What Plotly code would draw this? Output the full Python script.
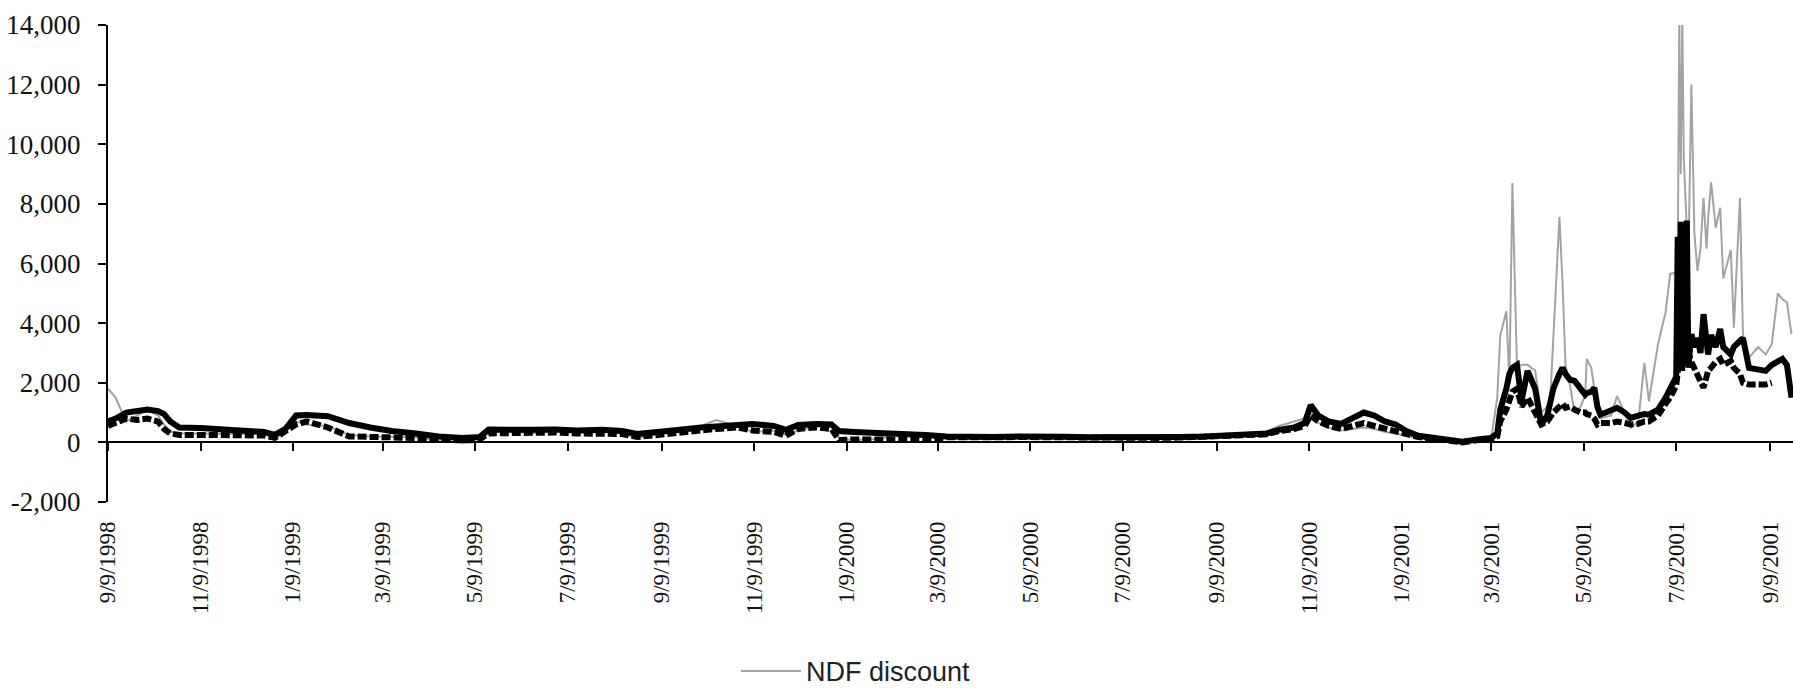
import plotly.graph_objects as go

# ---------------- data ----------------
dates = [
    "1998-09-09", "1998-09-14", "1998-09-21", "1998-09-28", "1998-10-05", "1998-10-12",
    "1998-10-16", "1998-10-20", "1998-10-26", "1998-11-09", "1998-11-23", "1998-12-07",
    "1998-12-21", "1998-12-28", "1999-01-04", "1999-01-11", "1999-01-18", "1999-02-01",
    "1999-02-15", "1999-03-01", "1999-03-15", "1999-03-31", "1999-04-15", "1999-05-01",
    "1999-05-12", "1999-05-18", "1999-06-01", "1999-06-15", "1999-07-01", "1999-07-15",
    "1999-08-01", "1999-08-14", "1999-08-24", "1999-09-07", "1999-09-21", "1999-10-05",
    "1999-10-15", "1999-10-29", "1999-11-08", "1999-11-22", "1999-11-30", "1999-12-08",
    "1999-12-20", "1999-12-30", "2000-01-04", "2000-01-14", "2000-02-01", "2000-02-15",
    "2000-03-01", "2000-03-15", "2000-04-01", "2000-04-15", "2000-05-01", "2000-05-15",
    "2000-06-01", "2000-06-15", "2000-07-01", "2000-07-15", "2000-08-01", "2000-08-15",
    "2000-09-01", "2000-09-15", "2000-10-01", "2000-10-12", "2000-10-20", "2000-10-30",
    "2000-11-06", "2000-11-10", "2000-11-15", "2000-11-22", "2000-11-30", "2000-12-08",
    "2000-12-15", "2000-12-22", "2000-12-29", "2001-01-05", "2001-01-12", "2001-01-20",
    "2001-01-30", "2001-02-10", "2001-02-18", "2001-02-28", "2001-03-09", "2001-03-13",
    "2001-03-15", "2001-03-19", "2001-03-21", "2001-03-23", "2001-03-26", "2001-03-29",
    "2001-04-02", "2001-04-07", "2001-04-11", "2001-04-15", "2001-04-17", "2001-04-19",
    "2001-04-23", "2001-04-25", "2001-04-27", "2001-04-30", "2001-05-03", "2001-05-07",
    "2001-05-10", "2001-05-11", "2001-05-14", "2001-05-16", "2001-05-18", "2001-05-20",
    "2001-05-27", "2001-05-31", "2001-06-05", "2001-06-09", "2001-06-14", "2001-06-18",
    "2001-06-21", "2001-06-27", "2001-07-02", "2001-07-05", "2001-07-09", "2001-07-10",
    "2001-07-11", "2001-07-12", "2001-07-13", "2001-07-14", "2001-07-15", "2001-07-16",
    "2001-07-17", "2001-07-19", "2001-07-21",
    "2001-07-23", "2001-07-25", "2001-07-27", "2001-07-29", "2001-07-30", "2001-08-01",
    "2001-08-04", "2001-08-07", "2001-08-09", "2001-08-14", "2001-08-16", "2001-08-20",
    "2001-08-22", "2001-08-26", "2001-09-01", "2001-09-06", "2001-09-10", "2001-09-14",
    "2001-09-17", "2001-09-20", "2001-09-23",
]

ndf_discount = [
    1800, 1500, 700, 900, 1100, 900,
    600, 350, 300, 300, 280, 300,
    280, 120, 380, 700, 600, 550,
    250, 200, 180, 170, 50, -30,
    20, 350, 380, 300, 400, 320,
    350, 300, 150, 280, 380, 550,
    750, 550, 350, 400, 250, 400,
    550, 650, 120, 80, 120, 350,
    200, 180, 160, 200, 180, 160,
    150, 140, 130, 120, 140, 170,
    200, 230, 250, 350, 550, 700,
    800, 1000, 650, 500, 400, 450,
    500, 450, 350, 300, 220, 150,
    100, 50, -40, 60, 120, 1500,
    3600, 4400, 2000, 8700, 2500, 2600,
    2600, 2400, 1000, 1200, 1500, 3600,
    7570, 5400, 2600, 1900, 1000, 1200,
    1600, 2800, 2500, 1800, 1400, 800,
    900, 1550, 1000, 480, 700, 2670,
    1380, 3300, 4360, 5650, 5700, 6000,
    14200, 9000, 14200, 9500, 8100, 7000,
    6000, 12000, 7000,
    5750, 6500, 8200, 6500, 7500, 8730,
    7200, 7870, 5500, 6450, 3850, 8200,
    3630, 2840, 3200, 2950, 3290, 5000,
    4800, 4700, 3630,
]

series_solid = [
    700, 800, 1000, 1050, 1100, 1050,
    950, 700, 500, 480, 420, 400,
    350, 250, 450, 900, 920, 880,
    650, 500, 380, 300, 200, 150,
    180, 430, 450, 420, 430, 400,
    420, 380, 280, 330, 420, 500,
    550, 600, 620, 550, 420, 580,
    620, 600, 380, 350, 330, 300,
    250, 200, 170, 180, 200, 210,
    190, 170, 160, 150, 170, 180,
    200, 220, 260, 300, 420, 500,
    650, 1250, 900, 700, 620, 800,
    1000, 900, 700, 600, 380, 220,
    150, 80, 20, 100, 150, 300,
    1100, 1800, 2300, 2500, 2600, 1400,
    2400, 1800, 600, 900, 1380, 1800,
    2300, 2500, 2300, 2100, 2060, 1800,
    1600, 1650, 1700, 1830, 1200, 930,
    1100, 1160, 1000, 820, 900, 950,
    930, 1100, 1500, 1800, 2200, 6900,
    2600, 7400, 2900, 7300, 2800, 7440,
    2500, 3630, 3200,
    3500, 3000, 4300, 3000, 2950, 3600,
    3200, 3800, 3200, 2950, 3200, 3400,
    3500, 2500, 2450, 2400, 2600, 2700,
    2800, 2600, 1500,
]

series_dashed = [
    550, 650, 800, 750, 800, 700,
    450, 300, 250, 250, 260, 250,
    230, 150, 350, 600, 700, 500,
    200, 180, 150, 150, 100, 80,
    100, 300, 320, 300, 330, 300,
    300, 280, 180, 260, 340, 420,
    450, 500, 400, 350, 220, 450,
    500, 450, 80, 100, 90, 120,
    100, 170, 150, 170, 180, 170,
    160, 150, 140, 130, 150, 160,
    180, 200, 230, 270, 380, 450,
    550, 900, 700, 550, 450, 550,
    650, 550, 450, 400, 280, 180,
    120, 50, 0, 80, 120, 200,
    700, 1100, 1400, 1700, 1800, 1200,
    1500, 1000, 600, 700, 900, 1000,
    1200, 1300, 1160, 1200, 1100, 1000,
    1000, 950, 900, 800, 600, 650,
    650, 700, 650, 600, 620, 700,
    700, 900, 1300, 1500, 1900, 2300,
    2600, 3300, 2400, 3000, 2800, 2900,
    3000, 2700, 2500,
    2200, 2000, 1830, 2200, 2400, 2500,
    2700, 2800, 2600, 2730, 2500, 2300,
    2000, 1940, 1950, 1940, 2000, None,
    None, None, None,
]

x_tick_dates = [
    "1998-09-09", "1998-11-09", "1999-01-09", "1999-03-09", "1999-05-09", "1999-07-09",
    "1999-09-09", "1999-11-09", "2000-01-09", "2000-03-09", "2000-05-09", "2000-07-09",
    "2000-09-09", "2000-11-09", "2001-01-09", "2001-03-09", "2001-05-09", "2001-07-09",
    "2001-09-09",
]
x_tick_labels = [
    "9/9/1998", "11/9/1998", "1/9/1999", "3/9/1999", "5/9/1999", "7/9/1999",
    "9/9/1999", "11/9/1999", "1/9/2000", "3/9/2000", "5/9/2000", "7/9/2000",
    "9/9/2000", "11/9/2000", "1/9/2001", "3/9/2001", "5/9/2001", "7/9/2001",
    "9/9/2001",
]
y_tick_vals = [-2000, 0, 2000, 4000, 6000, 8000, 10000, 12000, 14000]
y_tick_labels = ["-2,000", "0", "2,000", "4,000", "6,000", "8,000", "10,000", "12,000", "14,000"]

x_range = ["1998-09-09", "2001-09-24"]
y_range = [-2000, 14000]

# ---------------- figure ----------------
SERIF = "Liberation Serif, Times New Roman, serif"
SANS = "Liberation Sans, Arial, sans-serif"

fig = go.Figure()
fig.add_trace(go.Scatter(
    x=dates, y=ndf_discount, mode="lines", name="NDF discount",
    line=dict(color="#a3a3a3", width=2), showlegend=True,
))
fig.add_trace(go.Scatter(
    x=dates, y=series_dashed, mode="lines", name="dashed",
    line=dict(color="black", width=6, dash="9px,3px"), showlegend=False,
    connectgaps=False,
))
fig.add_trace(go.Scatter(
    x=dates, y=series_solid, mode="lines", name="solid",
    line=dict(color="black", width=6), showlegend=False,
))
# invisible trace so the zero-line axis is drawn
fig.add_trace(go.Scatter(
    x=x_range, y=[0, 0], xaxis="x2", mode="lines",
    line=dict(width=0), hoverinfo="skip", showlegend=False, opacity=0,
))

fig.update_layout(
    width=1793, height=688,
    margin=dict(l=108, r=0, t=25, b=186, autoexpand=False),
    paper_bgcolor="white", plot_bgcolor="white",
    showlegend=True,
    legend=dict(
        orientation="h", x=0.3727, xanchor="left", y=-0.355, yanchor="middle",
        font=dict(family=SANS, size=27, color="#222"),
        bgcolor="rgba(0,0,0,0)", itemwidth=60,
    ),
    xaxis=dict(
        type="date", range=x_range, automargin=False,
        tickmode="array", tickvals=x_tick_dates, ticktext=x_tick_labels,
        tickangle=-90, ticks="", showline=False, showgrid=False, zeroline=False,
        tickfont=dict(family=SERIF, size=23, color="#111"),
        ticklabelstandoff=14,
    ),
    xaxis2=dict(
        type="date", range=x_range, overlaying="x", matches="x", automargin=False,
        anchor="free", position=(0 - y_range[0]) / (y_range[1] - y_range[0]),
        tickmode="array", tickvals=x_tick_dates,
        showticklabels=False, ticks="outside", ticklen=8, tickwidth=2, tickcolor="black",
        showline=True, linecolor="black", linewidth=2, showgrid=False, zeroline=False,
    ),
    yaxis=dict(
        range=y_range, automargin=False, tickmode="array", tickvals=y_tick_vals,
        ticktext=y_tick_labels,
        ticks="outside", ticklen=8, tickwidth=2, tickcolor="black",
        showline=True, linecolor="black", linewidth=2,
        showgrid=False, zeroline=False,
        tickfont=dict(family=SERIF, size=27, color="#111"),
        ticklabelstandoff=12,
    ),
)

fig.write_html(
    "out.html",
    config={"displayModeBar": False},
    post_script="document.body.style.margin='0';document.body.style.overflow='hidden';",
)
